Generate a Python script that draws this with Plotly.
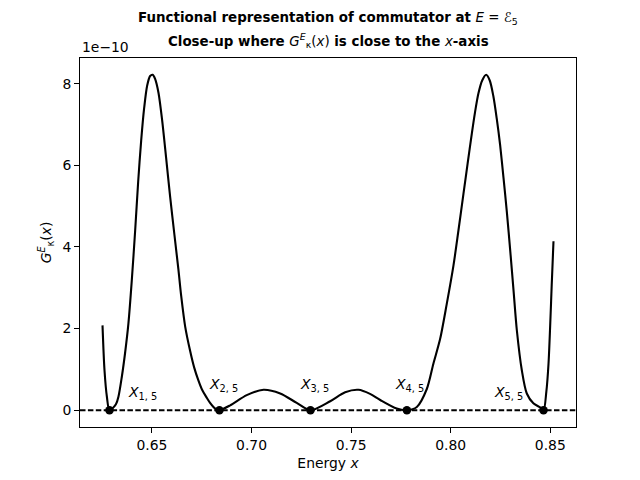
import plotly.graph_objects as go

# Energy x values
energy_x = [0.6252, 0.6262, 0.6274, 0.6287, 0.6305, 0.6320, 0.6332, 0.6349, 0.6365,
            0.6382, 0.6399, 0.6416, 0.6431, 0.6446, 0.6461, 0.6476, 0.6491, 0.6504,
            0.6516, 0.6533, 0.6551, 0.6571, 0.6591, 0.6613, 0.6633, 0.6647, 0.6667,
            0.6692, 0.6712, 0.6732, 0.6752, 0.6776, 0.6792, 0.6809, 0.6823, 0.6839,
            0.6893, 0.6976, 0.7060, 0.7144, 0.7227, 0.7296, 0.7395, 0.7470, 0.7537,
            0.7595, 0.7646, 0.7729, 0.7780, 0.7830, 0.7880, 0.7913, 0.7947, 0.7980,
            0.8014, 0.8039, 0.8064, 0.8085, 0.8106, 0.8122, 0.8139, 0.8158, 0.8178,
            0.8196, 0.8214, 0.8231, 0.8248, 0.8265, 0.8282, 0.8299, 0.8316, 0.8332,
            0.8357, 0.8382, 0.8415, 0.8449, 0.8466, 0.8480, 0.8491, 0.8508, 0.8516]
# G values in units of 1e-10
g_values = [2.08, 0.98, 0.33, 0.00, 0.06, 0.15, 0.33, 0.82, 1.39,
            2.12, 3.18, 4.41, 5.60, 6.60, 7.40, 7.95, 8.19, 8.22,
            8.12, 7.78, 7.12, 6.20, 5.25, 4.30, 3.45, 2.80, 2.05,
            1.45, 1.05, 0.75, 0.50, 0.30, 0.18, 0.08, 0.02, 0.00,
            0.12, 0.37, 0.50, 0.41, 0.18, 0.00, 0.22, 0.44, 0.50,
            0.40, 0.25, 0.04, 0.00, 0.08, 0.52, 1.14, 1.75, 2.60,
            3.55, 4.41, 5.30, 6.05, 6.78, 7.30, 7.76, 8.08, 8.22,
            8.08, 7.70, 7.15, 6.50, 5.70, 4.85, 3.90, 2.90, 1.96,
            0.98, 0.41, 0.17, 0.07, 0.00, 0.45, 1.14, 3.18, 4.14]
scale_label = "1e\u221210"

root_x = [0.6287, 0.6839, 0.7296, 0.7780, 0.8466]
root_y = [0, 0, 0, 0, 0]
root_labels = ["<i>X</i><sub>1, 5</sub>", "<i>X</i><sub>2, 5</sub>", "<i>X</i><sub>3, 5</sub>",
               "<i>X</i><sub>4, 5</sub>", "<i>X</i><sub>5, 5</sub>"]
label_shift_x = [33, 4, 4, 3, -35]
label_shift_y = [17, 25, 25, 25, 17]

x_ticks = [0.65, 0.70, 0.75, 0.80, 0.85]
y_ticks = [0, 2, 4, 6, 8]

FONT = "DejaVu Sans"
FS = 13.9

fig = go.Figure()
fig.add_trace(go.Scatter(x=energy_x, y=g_values, mode="lines",
                         line=dict(color="black", width=2.1, shape="spline", smoothing=0.8),
                         showlegend=False, hoverinfo="skip"))
fig.add_trace(go.Scatter(x=root_x, y=root_y, mode="markers",
                         marker=dict(color="black", size=8.5),
                         showlegend=False))

fig.add_shape(type="line", xref="paper", x0=0, x1=1, yref="y", y0=0, y1=0,
              line=dict(color="black", width=2.1, dash="5.5px,2.4px"), layer="below")

for xv, yv, t, sx, sy in zip(root_x, root_y, root_labels, label_shift_x, label_shift_y):
    fig.add_annotation(x=xv, y=yv, text=t, showarrow=False, xshift=sx, yshift=sy,
                       font=dict(family=FONT, size=14, color="black"))

fig.add_annotation(xref="paper", yref="paper", x=0, y=1, xanchor="left", yanchor="bottom",
                   text=scale_label, showarrow=False, yshift=1,
                   font=dict(family=FONT, size=FS, color="black"))

fig.add_annotation(xref="paper", yref="paper", x=0.5, y=1, xanchor="center", yanchor="middle",
                   yshift=40, showarrow=False,
                   text="<b>Functional representation of commutator at </b><i>E</i> = \u2130<sub>5</sub>",
                   font=dict(family=FONT, size=13.4, color="black"))
fig.add_annotation(xref="paper", yref="paper", x=0.5, y=1, xanchor="center", yanchor="middle",
                   yshift=18, showarrow=False,
                   text="<b>Close-up where </b><i>G</i><sup><i>E</i></sup><sub>\u03ba</sub>(<i>x</i>)<b> is close to the </b><i>x</i><b>-axis</b>",
                   font=dict(family=FONT, size=13.4, color="black"))

# page body adds an 8px offset; margins compensate so the axes sit at 80..576 x 58..427
fig.update_layout(
    width=640, height=480,
    margin=dict(l=72, r=72, t=50, b=61),
    paper_bgcolor="white", plot_bgcolor="white",
    font=dict(family=FONT, size=FS, color="black"),
    xaxis=dict(range=[0.6139, 0.8629], tickvals=x_ticks,
               ticktext=[f"{v:.2f}" for v in x_ticks],
               tickfont=dict(family=FONT, size=FS),
               showgrid=False, zeroline=False, showline=True, mirror=True,
               linecolor="black", linewidth=1, ticks="outside", ticklen=5, tickcolor="black",
               title=dict(text="Energy <i>x</i>", standoff=6, font=dict(family=FONT, size=FS))),
    yaxis=dict(range=[-0.411, 8.631], tickvals=y_ticks,
               ticktext=[str(v) for v in y_ticks],
               tickfont=dict(family=FONT, size=FS),
               showgrid=False, zeroline=False, showline=True, mirror=True,
               linecolor="black", linewidth=1, ticks="outside", ticklen=5, tickcolor="black",
               title=dict(text="<i>G</i><sup><i>E</i></sup><sub>\u03ba</sub>(<i>x</i>)", standoff=7,
                          font=dict(family=FONT, size=FS))),
)

fig.write_html("out.html")
